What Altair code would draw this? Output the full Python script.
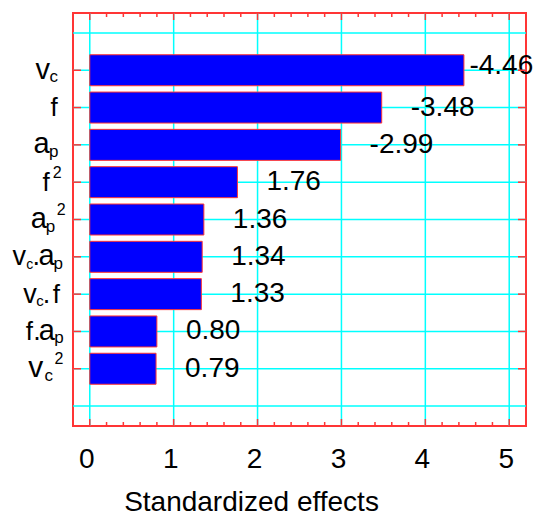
import altair as alt
import pandas as pd

# ---- data -------------------------------------------------------------
factors = ["v_c", "f", "a_p", "f^2", "a_p^2", "v_c.a_p", "v_c.f", "f.a_p", "v_c^2"]
effects = [-4.46, -3.48, -2.99, 1.76, 1.36, 1.34, 1.33, 0.80, 0.79]
ranks = [1, 2, 3, 4, 5, 6, 7, 8, 9]

x_major = [0, 1, 2, 3, 4, 5]
x_minor = [0.2, 0.4, 0.6, 0.8, 1.2, 1.4, 1.6, 1.8, 2.2, 2.4, 2.6, 2.8,
           3.2, 3.4, 3.6, 3.8, 4.2, 4.4, 4.6, 4.8]
y_grid = [0, 1, 2, 3, 4, 5, 6, 7, 8, 9, 10]

# typeset pieces of the factor labels: (rank, text, role, page x, font size)
label_pieces = [
    (1, "v", "main", 35.5, 29), (1, "c", "sub", 49.6, 17),
    (2, "f", "main", 50.4, 26),
    (3, "a", "main", 33.4, 29), (3, "p", "sub", 49.0, 17),
    (4, "f", "main", 42.4, 26), (4, "2", "sup", 52.8, 16),
    (5, "a", "main", 30.8, 29), (5, "p", "sub", 45.7, 17), (5, "2", "sup", 56.8, 16),
    (6, "v", "main", 12.6, 27), (6, "c", "sub", 26.2, 14), (6, ".", "main", 32.6, 27),
    (6, "a", "main", 38.4, 29), (6, "p", "sub", 53.6, 17),
    (7, "v", "main", 23.2, 27), (7, "c", "sub", 36.2, 15), (7, ".", "main", 42.8, 27),
    (7, "f", "main", 52.8, 26),
    (8, "f", "main", 25.7, 26), (8, ".", "main", 33.2, 27), (8, "a", "main", 38.8, 29),
    (8, "p", "sub", 54.2, 17),
    (9, "v", "main", 28.2, 30), (9, "c", "sub", 44.6, 17), (9, "2", "sup", 54.5, 16),
]

# ---- layout -----------------------------------------------------------
PAD_L, PAD_T, PAD_R, PAD_B = 73, 13, 9, 87
W, H = 535 - PAD_L - PAD_R, 513 - PAD_T - PAD_B
FONT = "Liberation Sans"
RED = "#ff3535"
CYAN = "#00ffff"

df = pd.DataFrame({"factor": factors, "rank": ranks, "effect": effects})
df["magnitude"] = df["effect"].abs()
df["label"] = df["effect"].map(lambda v: f"{v:.2f}")

pieces = pd.DataFrame(label_pieces, columns=["rank", "text", "role", "px", "fs"])
pieces["px"] = pieces["px"] - PAD_L

xs = alt.Scale(domain=[-0.2, 5.2], nice=False, zero=False)
ys = alt.Scale(domain=[-0.4, 10.4], nice=False, zero=False, reverse=True)

AX = alt.Axis(values=x_major, format="d", grid=False, ticks=False,
              tickSize=0, domain=False, labelFont=FONT,
              labelFontSize=28, labelColor="black",
              labelBaseline="alphabetic", labelPadding=41,
              labelOffset=-3.5,
              title="Standardized effects", titleFont=FONT,
              titleFontSize=28, titleFontWeight="normal",
              titleColor="black", titleX=178, titleY=84.5,
              titleBaseline="alphabetic", titleAlign="center")


def X(field):
    return alt.X(field, scale=xs, axis=AX)


def Y(field):
    return alt.Y(field, scale=ys, axis=None)


vgrid = alt.Chart(pd.DataFrame({"g": x_major})).mark_rule(
    color=CYAN, strokeWidth=1.5).encode(x=X("g:Q"))
hgrid = alt.Chart(pd.DataFrame({"g": y_grid})).mark_rule(
    color=CYAN, strokeWidth=1.5).encode(y=Y("g:Q"))

bars = alt.Chart(df).mark_bar(
    orient="horizontal", color="#0000ff", stroke=RED, strokeWidth=1, size=31
).encode(
    x=X("magnitude:Q"),
    x2=alt.datum(0),
    y=Y("rank:Q"),
)

vals = alt.Chart(df).transform_filter("datum.rank > 1").mark_text(
    align="left", baseline="alphabetic", dx=29, dy=8, fontSize=28, font=FONT,
    color="black"
).encode(x=X("magnitude:Q"), y=Y("rank:Q"), text="label:N")
val_top = alt.Chart(df).transform_filter("datum.rank == 1").mark_text(
    align="left", baseline="alphabetic", dx=5.5, dy=4, fontSize=28, font=FONT,
    color="black"
).encode(x=X("magnitude:Q"), y=Y("rank:Q"), text="label:N")


def piece_layer(role, dy):
    return alt.Chart(pieces).transform_filter(f"datum.role == '{role}'").mark_text(
        align="left", baseline="alphabetic", dy=dy, font=FONT, color="black"
    ).encode(
        x=alt.X("px:Q", scale=None, axis=None),
        y=Y("rank:Q"),
        size=alt.Size("fs:Q", scale=None, legend=None),
        text="text:N",
    )


lab_main = piece_layer("main", 8.5)
lab_sub = piece_layer("sub", 12)
lab_sup = piece_layer("sup", -4.5)

maj = pd.DataFrame({"t": x_major})
mino = pd.DataFrame({"t": x_minor})
tick_kw = dict(color=RED, strokeWidth=1.5)
ticks = [
    alt.Chart(maj).mark_rule(**tick_kw).encode(
        x=X("t:Q"), y=alt.value(H), y2=alt.value(H - 7)),
    alt.Chart(mino).mark_rule(**tick_kw).encode(
        x=X("t:Q"), y=alt.value(H), y2=alt.value(H - 4)),
    alt.Chart(maj).mark_rule(**tick_kw).encode(
        x=X("t:Q"), y=alt.value(0), y2=alt.value(7)),
    alt.Chart(mino).mark_rule(**tick_kw).encode(
        x=X("t:Q"), y=alt.value(0), y2=alt.value(4)),
    alt.Chart(df).mark_rule(**tick_kw).encode(
        y=Y("rank:Q"), x=alt.value(0), x2=alt.value(8)),
    alt.Chart(df).mark_rule(**tick_kw).encode(
        y=Y("rank:Q"), x=alt.value(W - 8), x2=alt.value(W)),
]

chart = alt.layer(
    vgrid, hgrid, bars, vals, val_top, lab_main, lab_sub, lab_sup, *ticks
).properties(
    width=W, height=H,
    autosize=alt.AutoSizeParams(type="none"),
    padding={"left": PAD_L, "top": PAD_T, "right": PAD_R, "bottom": PAD_B},
    background="white",
).configure_view(stroke=RED, strokeWidth=2)

chart.save("out.html", embed_options={"renderer": "svg", "actions": False})
